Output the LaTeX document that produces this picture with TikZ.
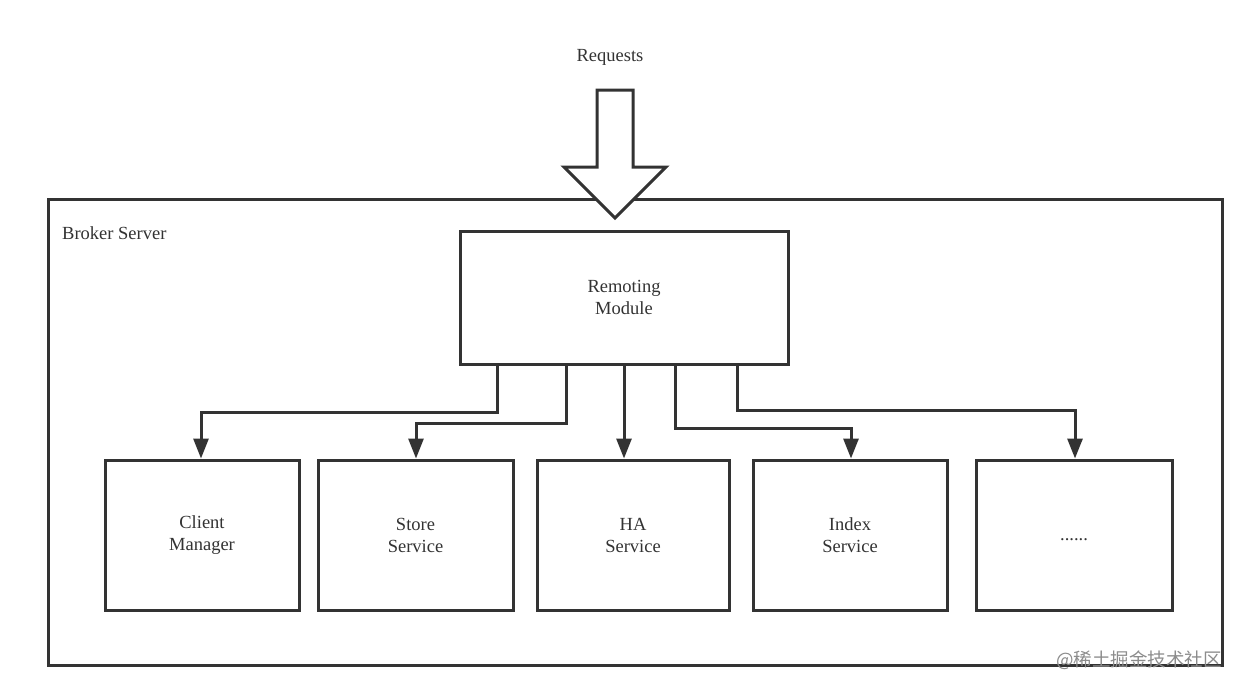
\documentclass[tikz,border=0pt]{standalone}
\usepackage{fontspec}
\setmainfont{Liberation Serif}
\newfontfamily\cjk{Noto Sans CJK SC}
\usetikzlibrary{arrows.meta}
\definecolor{ln}{HTML}{333333}
\begin{document}
\begin{tikzpicture}[x=1pt,y=-1pt,
  box/.style={draw=ln,line width=3pt,fill=white,inner sep=0pt,align=center,font=\fontsize{18.5}{22}\selectfont,text=ln},
  conn/.style={draw=ln,line width=3pt,-{Triangle[width=15pt,length=20pt]}},
  lbl/.style={font=\fontsize{18.5}{22}\selectfont,text=ln,inner sep=0pt}]
\useasboundingbox (0,0) rectangle (1237,691);
% outer broker box
\node[box,minimum width=1174pt,minimum height=466pt] (broker) at (635,432) {};
\node[lbl,anchor=west] (brokerlbl) at (62,233) {Broker Server};
% request arrow
\draw[ln,line width=3pt,fill=white,line join=miter] (597,90) -- (633,90) -- (633,167) -- (666,167) -- (615,218) -- (564,167) -- (597,167) -- cycle;
\node[lbl] (req) at (610,57) {Requests};
% remoting
\node[box,minimum width=328pt,minimum height=133pt] (rem) at (624,297.5) {Remoting\\Module};
% services
\node[box,minimum width=194pt,minimum height=150pt] (cm) at (202,535) {Client\\Manager};
\node[box,minimum width=195pt,minimum height=150pt] (ss) at (415.5,535) {Store\\Service};
\node[box,minimum width=192pt,minimum height=150pt] (ha) at (633,535) {HA\\Service};
\node[box,minimum width=194pt,minimum height=150pt] (is) at (850,535) {Index\\Service};
\node[box,minimum width=196pt,minimum height=150pt] (more) at (1074,535) {};
\node[lbl] (moretxt) at (1074,540) {......};
% connectors
\draw[conn] (rem.south -| 497,0) |- (201,412) -- (cm.north -| 201,0);
\draw[conn] (rem.south -| 566,0) |- (416,423) -- (ss.north -| 416,0);
\draw[conn] (rem.south -| 624,0) -- (ha.north -| 624,0);
\draw[conn] (rem.south -| 675,0) |- (851,428) -- (is.north -| 851,0);
\draw[conn] (rem.south -| 737,0) |- (1075,410) -- (more.north -| 1075,0);
% watermark
\node[font=\cjk\fontsize{18.5}{20}\selectfont,text=black!45,anchor=east,inner sep=0pt] (wm) at (1222,660) {@稀土掘金技术社区};
\end{tikzpicture}
\end{document}
